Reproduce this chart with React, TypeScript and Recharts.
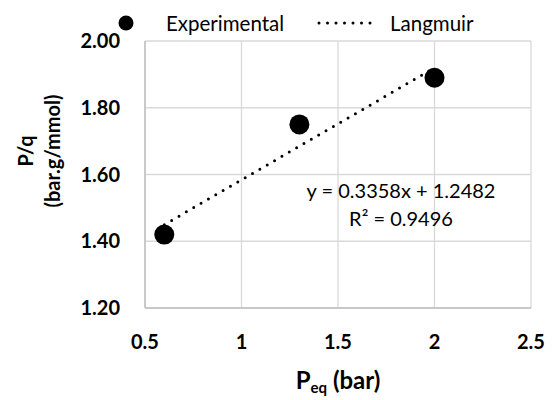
import React from 'react';
import { ScatterChart, Scatter, XAxis, YAxis, CartesianGrid, Legend, Customized } from 'recharts';

// experimental points
const expX = [0.6, 1.3, 2.0];
const expY = [1.42, 1.75, 1.89];
// Langmuir fit line endpoints (y = 0.3358x + 1.2482)
const fitX = [0.6, 2.0];
const fitY = [1.4497, 1.9198];

const xTicks = [0.5, 1, 1.5, 2, 2.5];
const yTicks = [1.2, 1.4, 1.6, 1.8, 2.0];
const seriesNames = ['Experimental', 'Langmuir'];
const fitText = ['y = 0.3358x + 1.2482', 'R\u00b2 = 0.9496'];

const expData = expX.map((x, i) => ({ x, y: expY[i] }));
const fitData = fitX.map((x, i) => ({ x, y: fitY[i] }));

const FONT = 'Lato, "DejaVu Sans", sans-serif';
const W = 553;
const H = 400;

function Dot(props: { cx?: number; cy?: number }) {
  const { cx, cy } = props;
  if (cx == null || cy == null) return null;
  return <circle cx={cx} cy={cy} r={10} fill="#000" />;
}

function LegendBox() {
  return (
    <svg width={W} height={40} style={{ display: 'block', fontFamily: FONT }}>
      <circle cx={126} cy={23} r={7.5} fill="#000" />
      <text x={166} y={23} fontSize={20.5} dominantBaseline="central" fill="#000">
        {seriesNames[0]}
      </text>
      <line x1={319} y1={23} x2={378} y2={23} stroke="#000" strokeWidth={3} strokeDasharray="0 8.5" strokeLinecap="round" />
      <text x={390} y={23} fontSize={20.5} dominantBaseline="central" fill="#000">
        {seriesNames[1]}
      </text>
    </svg>
  );
}

function Annotations() {
  return (
    <g style={{ fontFamily: FONT }} fill="#000">
      <text x={401} y={190} fontSize={20} textAnchor="middle" dominantBaseline="central">
        {fitText[0]}
      </text>
      <text x={401} y={218} fontSize={20} textAnchor="middle" dominantBaseline="central">
        {fitText[1]}
      </text>
      <g transform="translate(25,151) rotate(-90)">
        <text x={0} y={0} fontSize={20} fontWeight={700} textAnchor="middle" dominantBaseline="central">
          P/q
        </text>
      </g>
      <g transform="translate(52,151) rotate(-90)">
        <text x={0} y={0} fontSize={20} fontWeight={700} textAnchor="middle" dominantBaseline="central">
          (bar.g/mmol)
        </text>
      </g>
      <text x={338} y={389} fontSize={24} fontWeight={700} textAnchor="middle">
        P<tspan fontSize={15} dy={4}>eq</tspan>
        <tspan dy={-4}> (bar)</tspan>
      </text>
    </g>
  );
}

export default function App() {
  return (
    <div style={{ position: 'absolute', left: 0, top: 0, width: W, height: H, background: '#fff' }}>
      <ScatterChart width={W} height={H} margin={{ top: 41, right: 22, bottom: 0, left: 0 }}>
        <CartesianGrid stroke="#d9d9d9" strokeWidth={1.3} />
        <XAxis
          type="number"
          dataKey="x"
          domain={[0.5, 2.5]}
          ticks={xTicks}
          tickLine={false}
          axisLine={{ stroke: '#bfbfbf', strokeWidth: 1.5 }}
          tickMargin={21}
          tick={{ fill: '#000', fontSize: 20, fontWeight: 700, fontFamily: FONT }}
          height={92}
        />
        <YAxis
          type="number"
          dataKey="y"
          domain={[1.2, 2.0]}
          ticks={yTicks}
          tickFormatter={(v: number) => v.toFixed(2)}
          tickLine={false}
          axisLine={{ stroke: '#bfbfbf', strokeWidth: 1.5 }}
          tickMargin={19}
          tick={{ fill: '#000', fontSize: 20, fontWeight: 700, fontFamily: FONT }}
          width={145}
        />
        <Scatter
          name={seriesNames[1]}
          data={fitData}
          isAnimationActive={false}
          line={{ stroke: '#000', strokeWidth: 3, strokeDasharray: '0 8.5', strokeLinecap: 'round' }}
          lineType="joint"
          shape={() => <g />}
        />
        <Scatter name={seriesNames[0]} data={expData} isAnimationActive={false} shape={<Dot />} />
        <Legend
          layout="horizontal"
          verticalAlign="middle"
          align="center"
          content={() => <LegendBox />}
          wrapperStyle={{ top: 0, left: 0, width: W, height: 40 }}
        />
        <Customized component={<Annotations />} />
      </ScatterChart>
    </div>
  );
}
